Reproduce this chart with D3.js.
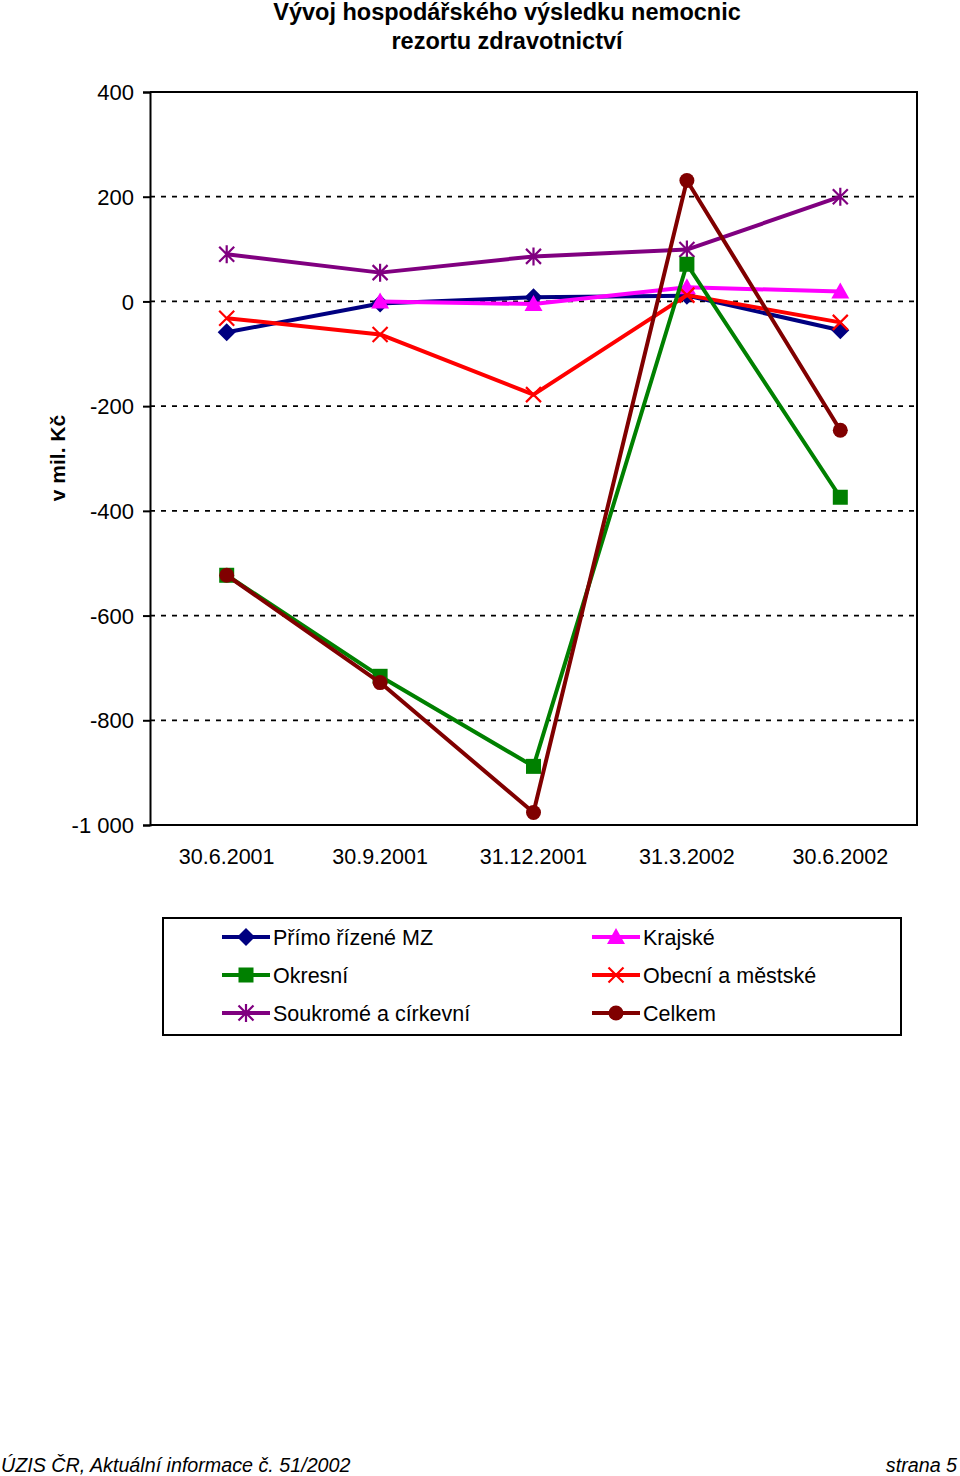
<!DOCTYPE html>
<html><head><meta charset="utf-8">
<script src="https://cdn.jsdelivr.net/npm/d3@7"></script>
<style>body{margin:0;background:#fff;} svg{display:block;font-family:"Liberation Sans",Arial,sans-serif;}</style>
</head><body>
<script>
const categories = ["30.6.2001","30.9.2001","31.12.2001","31.3.2002","30.6.2002"];
const primoMZ = [-59, -4, 8, 11, -55];
const krajske = [null, 0, -5, 27, 19];
const okresni = [-523, -716, -888, 71, -374];
const obecni = [-32, -63, -178, 12, -40];
const soukrome = [90, 55, 86, 99, 200];
const celkem = [-523, -728, -976, 231, -246];
const yTicks = [400, 200, 0, -200, -400, -600, -800, -1000];
const yTickLabels = ["400","200","0","-200","-400","-600","-800","-1 000"];

const series = [
  {name:"Přímo řízené MZ", values:primoMZ, color:"#000080", marker:"diamond"},
  {name:"Okresní", values:okresni, color:"#008000", marker:"square"},
  {name:"Soukromé a církevní", values:soukrome, color:"#800080", marker:"star"},
  {name:"Krajské", values:krajske, color:"#FF00FF", marker:"triangle"},
  {name:"Obecní a městské", values:obecni, color:"#FF0000", marker:"x"},
  {name:"Celkem", values:celkem, color:"#800000", marker:"circle"}
];
const drawOrder = [0,3,4,2,1,5];

const W=960,H=1476;
const svg = d3.select("body").append("svg").attr("width",W).attr("height",H);
const L=150,R=917,T=92,B=825;
const x = d3.scaleBand().domain(categories).range([L,R]);
const y = d3.scaleLinear().domain([-1000,400]).range([B,T]);

svg.append("text").attr("x",507).attr("y",20).attr("text-anchor","middle").attr("font-size",23.5).attr("font-weight","bold").text("Vývoj hospodářského výsledku nemocnic");
svg.append("text").attr("x",507).attr("y",49).attr("text-anchor","middle").attr("font-size",23.5).attr("font-weight","bold").text("rezortu zdravotnictví");

// gridlines
svg.append("g").selectAll("line").data(yTicks).join("line")
  .attr("x1",L).attr("x2",R).attr("y1",d=>y(d)).attr("y2",d=>y(d))
  .attr("stroke","#000").attr("stroke-width",1.8).attr("stroke-dasharray","5,6");

// y axis
const yAxis = d3.axisLeft(y).tickValues(yTicks).tickSize(7).tickFormat((d,i)=>yTickLabels[i]);
const ga = svg.append("g").attr("transform",`translate(${L},0)`).call(yAxis);
ga.select(".domain").attr("stroke","#000").attr("stroke-width",2);
ga.selectAll(".tick line").attr("stroke","#000").attr("stroke-width",2);
ga.selectAll(".tick text").attr("font-size",22).attr("fill","#000").attr("x",-16).attr("dy","0.35em").attr("font-family","Liberation Sans, Arial, sans-serif");

// box
svg.append("path").attr("d",`M${L},${T}H${R}V${B}H${L}`).attr("fill","none").attr("stroke","#000").attr("stroke-width",2);

// x axis labels
const xAxis = d3.axisBottom(x).tickSize(0);
const gx = svg.append("g").attr("transform",`translate(0,${B})`).call(xAxis);
gx.select(".domain").remove();
gx.selectAll(".tick text").attr("font-size",21.5).attr("fill","#000").attr("y",24).attr("dy","0.71em").attr("font-family","Liberation Sans, Arial, sans-serif");

svg.append("text").attr("transform","translate(65,458) rotate(-90)").attr("text-anchor","middle").attr("font-size",21).attr("font-weight","bold").text("v mil. Kč");

function drawMarker(g, type, cx, cy, color, s){
  s = s||1;
  if(type==="diamond"){
    g.append("path").attr("d",`M${cx},${cy-9*s}L${cx+9*s},${cy}L${cx},${cy+9*s}L${cx-9*s},${cy}Z`).attr("fill",color);
  } else if(type==="square"){
    g.append("rect").attr("x",cx-7.5*s).attr("y",cy-7.5*s).attr("width",15*s).attr("height",15*s).attr("fill",color);
  } else if(type==="triangle"){
    g.append("path").attr("d",`M${cx},${cy-9*s}L${cx+9*s},${cy+7*s}L${cx-9*s},${cy+7*s}Z`).attr("fill",color);
  } else if(type==="circle"){
    g.append("circle").attr("cx",cx).attr("cy",cy).attr("r",7.5*s).attr("fill",color);
  } else if(type==="x"){
    const r=7.5*s;
    g.append("path").attr("d",`M${cx-r},${cy-r}L${cx+r},${cy+r}M${cx-r},${cy+r}L${cx+r},${cy-r}`).attr("stroke",color).attr("stroke-width",2.2);
  } else if(type==="star"){
    const r=7.5*s;
    g.append("path").attr("d",`M${cx-r},${cy-r}L${cx+r},${cy+r}M${cx-r},${cy+r}L${cx+r},${cy-r}M${cx},${cy-r-1.5}L${cx},${cy+r+1.5}`).attr("stroke",color).attr("stroke-width",2.2);
  }
}

const cx = c => x(c)+x.bandwidth()/2;
drawOrder.forEach(i=>{
  const s = series[i];
  const pts = categories.map((c,j)=>({c, v:s.values[j]})).filter(p=>p.v!==null);
  const line = d3.line().x(p=>cx(p.c)).y(p=>y(p.v));
  const g = svg.append("g");
  g.append("path").attr("d",line(pts)).attr("fill","none").attr("stroke",s.color).attr("stroke-width",4).attr("stroke-linejoin","round");
  pts.forEach(p=>drawMarker(g,s.marker,cx(p.c),y(p.v),s.color));
});

// legend
svg.append("rect").attr("x",163).attr("y",918).attr("width",738).attr("height",117).attr("fill","none").attr("stroke","#000").attr("stroke-width",2);
const legPos = [[222,937],[222,975],[222,1013],[592,937],[592,975],[592,1013]];
series.forEach((s,i)=>{
  const [lx,ly] = legPos[i];
  const g = svg.append("g");
  g.append("line").attr("x1",lx).attr("x2",lx+48).attr("y1",ly).attr("y2",ly).attr("stroke",s.color).attr("stroke-width",4);
  drawMarker(g,s.marker,lx+24,ly,s.color,1);
  g.append("text").attr("x",lx+51).attr("y",ly).attr("dy","0.35em").attr("font-size",21.5).text(s.name);
});

svg.append("text").attr("x",1).attr("y",1472).attr("font-size",19.7).attr("font-style","italic").text("ÚZIS ČR, Aktuální informace č. 51/2002");
svg.append("text").attr("x",957).attr("y",1472).attr("text-anchor","end").attr("font-size",19.7).attr("font-style","italic").text("strana 5");
</script>
</body></html>
